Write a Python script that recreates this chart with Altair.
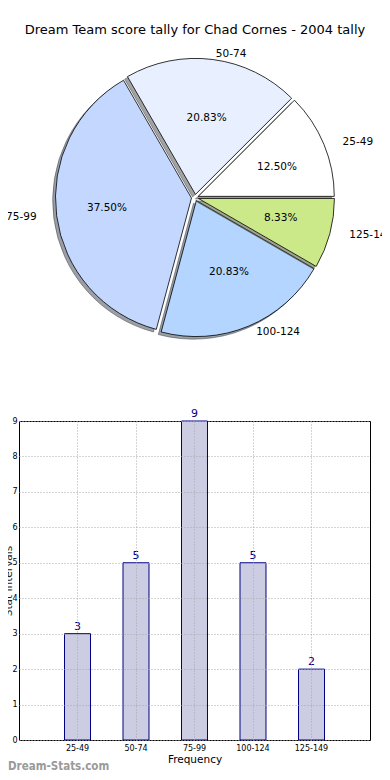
import altair as alt
import pandas as pd

# ---------------- data ----------------
labels = ["25-49", "50-74", "75-99", "100-124", "125-149"]
counts = [3, 5, 9, 5, 2]
slice_colors = ["#ffffff", "#e8f0ff", "#c4d8ff", "#b3d5ff", "#cce98a"]
title_text = "Dream Team score tally for Chad Cornes - 2004 tally"
x_title = "Frequency"
y_title = "Stat Intervals"
watermark = "Dream-Stats.com"

FONT = "DejaVu Sans"
W = 351
H1 = 403
H2 = 319
SP = 10

# pie geometry (cell coordinates)
CX, CY = 176.0, 189.6
RX, RY = 142.0, 129.0
R = 136
E = 0.025


def shade(hexcol, f=0.3):
    r, g, b = (int(hexcol[i:i + 2], 16) for i in (1, 3, 5))
    return "#%02x%02x%02x" % (int(r * f), int(g * f), int(b * f))


shadow_colors = [shade(c) for c in slice_colors]

xs = alt.Scale(domain=[-CX / RX, (W - CX) / RX], nice=False, zero=False)
ys = alt.Scale(domain=[-(H1 - CY) / RY, CY / RY], nice=False, zero=False)

df = pd.DataFrame({"label": labels, "count": counts})

base = (
    alt.Chart(df)
    .transform_joinaggregate(total="sum(count)")
    .transform_window(cum="sum(count)", frame=[None, 0])
    .transform_calculate(
        a0="2*PI*(datum.cum - datum.count)/datum.total",
        a1="2*PI*datum.cum/datum.total",
        pct="format(100*datum.count/datum.total, '.2f') + '%'",
    )
    .transform_calculate(
        mid="(datum.a0 + datum.a1)/2",
        t0="PI/2 - datum.a1",
        t1="PI/2 - datum.a0",
    )
    .transform_calculate(
        ex=f"{E}*cos(datum.mid)",
        ey=f"{E}*sin(datum.mid)",
        sx=f"{E}*cos(datum.mid) - 0.02",
        sy=f"{E}*sin(datum.mid) - 0.02",
        lx=f"({E}+1.1)*cos(datum.mid)",
        ly=f"({E}+1.1)*sin(datum.mid)",
        px=f"({E}+0.6)*cos(datum.mid)",
        py=f"({E}+0.6)*sin(datum.mid)",
    )
)

layers = []
for i, lab in enumerate(labels):
    f = base.transform_filter(alt.datum.label == lab)
    shadow = f.mark_arc(
        radius=R, fill=shadow_colors[i], stroke=shadow_colors[i],
        fillOpacity=0.5, strokeOpacity=0.5, strokeWidth=1,
    ).encode(
        theta=alt.Theta("t0:Q", scale=None),
        theta2="t1:Q",
        x=alt.X("sx:Q", scale=xs, axis=None),
        y=alt.Y("sy:Q", scale=ys, axis=None),
    )
    wedge = f.mark_arc(radius=R, stroke="black", strokeWidth=0.8).encode(
        theta=alt.Theta("t0:Q", scale=None),
        theta2="t1:Q",
        x=alt.X("ex:Q", scale=xs, axis=None),
        y=alt.Y("ey:Q", scale=ys, axis=None),
        fill=alt.Fill("label:N", scale=alt.Scale(domain=labels, range=slice_colors), legend=None),
    )
    layers += [shadow, wedge]

pct_text = base.mark_text(fontSize=10.5, font=FONT, align="center", baseline="middle", color="black").encode(
    x=alt.X("px:Q", scale=xs, axis=None),
    y=alt.Y("py:Q", scale=ys, axis=None),
    text="pct:N",
)
lab_right = base.transform_filter("cos(datum.mid) > 0").mark_text(
    fontSize=10.5, font=FONT, align="left", baseline="middle", color="black"
).encode(
    x=alt.X("lx:Q", scale=xs, axis=None),
    y=alt.Y("ly:Q", scale=ys, axis=None),
    text="label:N",
)
lab_left = base.transform_filter("cos(datum.mid) <= 0").mark_text(
    fontSize=10.5, font=FONT, align="right", baseline="middle", color="black"
).encode(
    x=alt.X("lx:Q", scale=xs, axis=None),
    y=alt.Y("ly:Q", scale=ys, axis=None),
    text="label:N",
)
title = alt.Chart(pd.DataFrame({"t": [title_text]})).mark_text(
    fontSize=13, font=FONT, align="center", baseline="middle", color="black"
).encode(x=alt.value(CX), y=alt.value(22), text="t:N")

pie = alt.layer(*layers, pct_text, lab_right, lab_left, title).properties(width=W, height=H1)

# ---------------- bar chart ----------------
GRID = "#a8a8a8"
bdf = pd.DataFrame({"label": labels, "count": counts})
xenc = alt.X(
    "label:N", sort=labels,
    scale=alt.Scale(paddingInner=0.556, paddingOuter=0.778),
    axis=alt.Axis(
        title=x_title, labelAngle=0, labelFontSize=8, labelFont=FONT, labelColor="black",
        titleFontSize=10.5, titleFont=FONT, titleFontWeight="normal", titleColor="black",
        grid=True, gridDash=[1, 2], gridColor=GRID, ticks=False, domain=False,
        bandPosition=0.5, zindex=1, labelPadding=4, titlePadding=2,
    ),
)
yenc = alt.Y(
    "count:Q",
    scale=alt.Scale(domain=[0, 9], nice=False),
    axis=alt.Axis(
        values=list(range(10)), labelOverlap=False, title=y_title,
        labelFontSize=8, labelFont=FONT, labelColor="black",
        titleFontSize=10.5, titleFont=FONT, titleFontWeight="normal", titleColor="#222222",
        titleX=-11, titleY=H2 / 2, titleAngle=270, titleAlign="center", titleBaseline="middle",
        grid=True, gridDash=[1, 2], gridColor=GRID, ticks=False, domain=False,
        zindex=1, labelPadding=2,
    ),
)
bars = alt.Chart(bdf).mark_bar(fill="#ccccE3", stroke="#000080", strokeWidth=1).encode(x=xenc, y=yenc)
vals = alt.Chart(bdf).mark_text(baseline="bottom", dy=-2, fontSize=11, font=FONT, color="#00008b").encode(
    x=xenc, y=yenc, text="count:Q"
)
wm = alt.Chart(pd.DataFrame({"w": [watermark]})).mark_text(
    align="left", baseline="middle", fontSize=11.5, fontWeight="bold",
    font='"DejaVu Sans Condensed", "DejaVu Sans"', color="#9a9a9a"
).encode(x=alt.value(-11), y=alt.value(H2 + 27), text="w:N")

bar = alt.layer(bars, vals, wm).properties(
    width=W, height=H2, view=alt.ViewBackground(stroke="black", strokeWidth=1)
)

PAD_L = 11
PAD_R = 374 - W - PAD_L
PAD_B = 764

chart = (
    alt.vconcat(pie, bar, spacing=SP, bounds="flush")
    .properties(
        autosize=alt.AutoSizeParams(type="none"),
        padding={"left": PAD_L, "top": 0, "right": PAD_R, "bottom": PAD_B},
    )
    .configure(font=FONT)
    .configure_view(stroke="transparent")
)

chart.save("out.html", embed_options={"renderer": "svg", "actions": False})
